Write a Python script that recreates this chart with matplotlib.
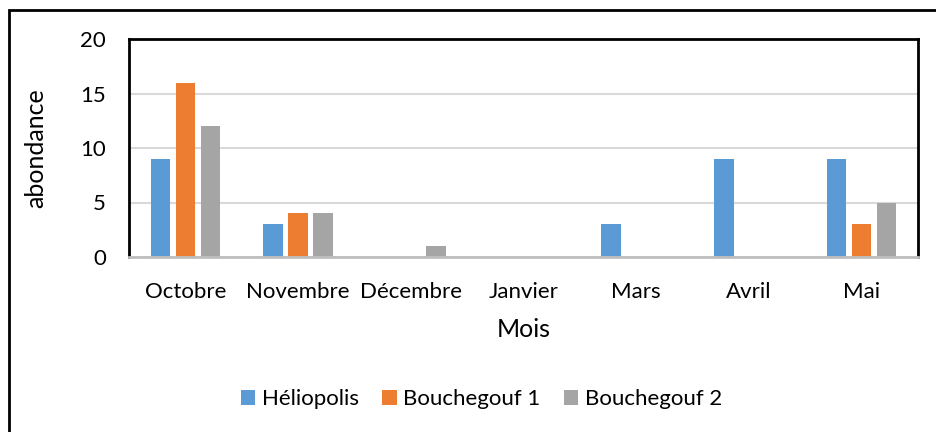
import matplotlib
matplotlib.use("Agg")
import matplotlib.pyplot as plt
import numpy as np
from matplotlib.patches import Rectangle

plt.rcParams["font.family"] = ["Lato", "DejaVu Sans"]

months = ["Octobre", "Novembre", "Décembre", "Janvier", "Mars", "Avril", "Mai"]
heliopolis = [9, 3, 0, 0, 3, 9, 9]
bouchegouf1 = [16, 4, 0, 0, 0, 0, 3]
bouchegouf2 = [12, 4, 1, 0, 0, 0, 5]
series_names = ["Héliopolis", "Bouchegouf 1", "Bouchegouf 2"]
colors = ["#5B9BD5", "#ED7D31", "#A5A5A5"]

W, H = 936, 432
fig = plt.figure(figsize=(W / 100, H / 100), dpi=100)

# plot area in pixel coordinates
left, right, top, bottom = 129, 918, 39, 257
ax = fig.add_axes([left / W, 1 - bottom / H, (right - left) / W, (bottom - top) / H])

x = np.arange(len(months))
bar_w = 0.173
step = 0.222
for i, (vals, name, c) in enumerate(zip([heliopolis, bouchegouf1, bouchegouf2], series_names, colors)):
    ax.bar(x + (i - 1) * step, vals, width=bar_w, color=c, label=name, zorder=3)

ax.set_xlim(-0.5, len(months) - 0.5)
ax.set_ylim(0, 20)
ax.set_yticks([0, 5, 10, 15, 20])
ax.set_xticks(x)
ax.set_xticklabels(months)
ax.tick_params(axis="both", length=0, labelsize=16, colors="black")
ax.tick_params(axis="x", pad=18.3)
ax.tick_params(axis="y", pad=16.5)
ax.grid(axis="y", color="#d9d9d9", linewidth=1.5, zorder=0)
ax.set_axisbelow(True)

for side in ("top", "left", "right"):
    ax.spines[side].set_color("black")
    ax.spines[side].set_linewidth(2)
ax.spines["bottom"].set_color("#bfbfbf")
ax.spines["bottom"].set_linewidth(2)
ax.spines["bottom"].set_zorder(4)

ax.set_xlabel("Mois", fontsize=18, labelpad=11)
ax.set_ylabel("abondance", fontsize=18, labelpad=24)

# legend centred around y = 399 px
leg_y = (bottom - 399) / (bottom - top)
ax.legend(loc="center", bbox_to_anchor=(0.5 - 42 / (right - left), leg_y),
          ncol=3, frameon=False, fontsize=16, handlelength=0.65, handleheight=0.65,
          handletextpad=0.3, columnspacing=1.05)

# outer chart frame
fig.patches.append(Rectangle((9 / W, -0.1), 1.2, 1 - 10 / H + 0.1, transform=fig.transFigure,
                             fill=False, edgecolor="black", linewidth=2))

fig.savefig("out.png", dpi=100)
